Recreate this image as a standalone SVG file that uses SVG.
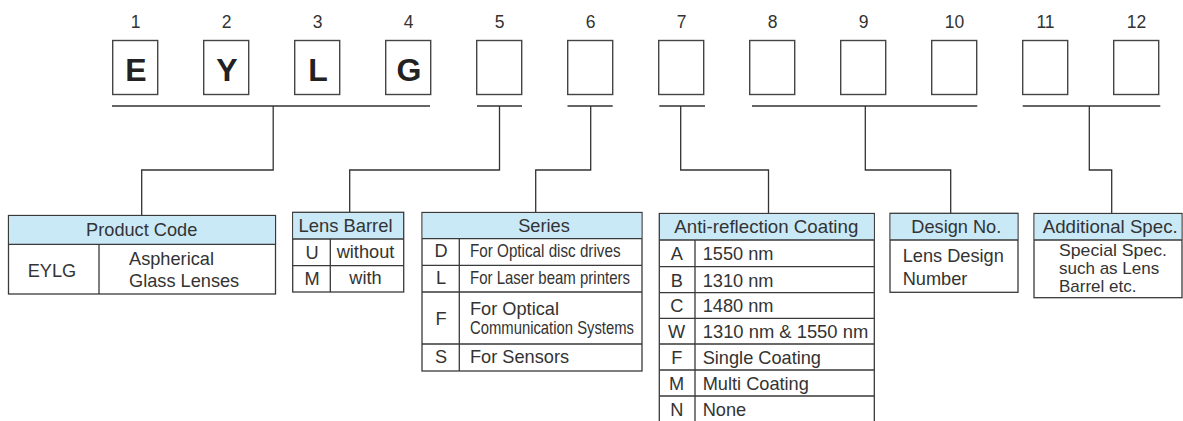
<svg xmlns="http://www.w3.org/2000/svg" width="1183" height="421" viewBox="0 0 1183 421">
<style>
.bx{fill:#fff;stroke:#444;stroke-width:1.4}
.tb{fill:#fff;stroke:#3a3a3a;stroke-width:1.3}
.hd{fill:#c9e9f7;stroke:none}
.ln{fill:none;stroke:#3a3a3a;stroke-width:1.3}
.cn{fill:none;stroke:#333;stroke-width:1.3}
text{font-family:"Liberation Sans",Arial,sans-serif;fill:#333;font-size:18.2px}
.num{font-size:17.5px;text-anchor:middle}
.big{font-size:32px;font-weight:bold;fill:#222;text-anchor:middle}
.c{text-anchor:middle}
.sm{font-size:17px}
</style>
<g id="codes">
<rect class="bx" x="112.7" y="40.5" width="45" height="54"/>
<rect class="bx" x="203.7" y="40.5" width="45" height="54"/>
<rect class="bx" x="294.7" y="40.5" width="45" height="54"/>
<rect class="bx" x="385.7" y="40.5" width="45" height="54"/>
<rect class="bx" x="476.7" y="40.5" width="45" height="54"/>
<rect class="bx" x="567.7" y="40.5" width="45" height="54"/>
<rect class="bx" x="658.7" y="40.5" width="45" height="54"/>
<rect class="bx" x="749.7" y="40.5" width="45" height="54"/>
<rect class="bx" x="840.7" y="40.5" width="45" height="54"/>
<rect class="bx" x="931.7" y="40.5" width="45" height="54"/>
<rect class="bx" x="1022.7" y="40.5" width="45" height="54"/>
<rect class="bx" x="1113.7" y="40.5" width="45" height="54"/>
<text class="num" x="135.5" y="28.3">1</text>
<text class="num" x="226.5" y="28.3">2</text>
<text class="num" x="317.5" y="28.3">3</text>
<text class="num" x="408.5" y="28.3">4</text>
<text class="num" x="499.5" y="28.3">5</text>
<text class="num" x="590.5" y="28.3">6</text>
<text class="num" x="681.5" y="28.3">7</text>
<text class="num" x="772.5" y="28.3">8</text>
<text class="num" x="863.5" y="28.3">9</text>
<text class="num" x="954.5" y="28.3">10</text>
<text class="num" x="1045.5" y="28.3">11</text>
<text class="num" x="1136.5" y="28.3">12</text>
<text class="big" x="136" y="80.7">E</text>
<text class="big" x="227" y="80.7">Y</text>
<text class="big" x="318" y="80.7">L</text>
<text class="big" x="409" y="80.7">G</text>
</g>
<g id="connectors">
<path class="cn" d="M112 106H430M273.2 106V170H141.7V215.5"/>
<path class="cn" d="M477 106H522M499.5 106V170H349.7V212.3"/>
<path class="cn" d="M567.5 106H612.7M590.7 106V170H535.7V212.5"/>
<path class="cn" d="M659.3 106H705M680.7 106V170H768.5V213.5"/>
<path class="cn" d="M752 106H977.3M865.3 106V170H950.7V213.3"/>
<path class="cn" d="M1022.7 106H1160.3M1089.3 106V170H1111.7V213.5"/>
</g>
<g id="product-code">
<rect class="tb" x="8.5" y="215.5" width="267" height="78.5"/>
<rect class="hd" x="9.2" y="216.2" width="265.6" height="28.1"/>
<path class="ln" d="M8.5 244.3H275.5M99 244.3V294"/>
<text class="c" x="141.7" y="235.7">Product Code</text>
<text class="c" x="52" y="277.3">EYLG</text>
<text x="129" y="265">Aspherical</text>
<text x="129" y="287.3">Glass Lenses</text>
</g>
<g id="lens-barrel">
<rect class="tb" x="292.7" y="212.3" width="111" height="79.7"/>
<rect class="hd" x="293.4" y="213" width="109.6" height="26"/>
<path class="ln" d="M292.7 239H403.7M292.7 265.7H403.7M330.3 239V292"/>
<text class="c" x="345.5" y="231.7" textLength="94" lengthAdjust="spacingAndGlyphs">Lens Barrel</text>
<text class="c" x="312" y="259">U</text>
<text class="c" x="365.5" y="258">without</text>
<text class="c" x="312" y="285.3">M</text>
<text class="c" x="365.5" y="284">with</text>
</g>
<g id="series">
<rect class="tb" x="422" y="212.5" width="220" height="158.5"/>
<rect class="hd" x="422.7" y="213.2" width="218.6" height="25.5"/>
<path class="ln" d="M422 238.7H642M422 265.3H642M422 292H642M422 344H642M459.3 238.7V371"/>
<text class="c" x="544" y="231.7">Series</text>
<text class="c" x="441" y="257.3">D</text>
<text x="470" y="257.3" textLength="150.5" lengthAdjust="spacingAndGlyphs">For Optical disc drives</text>
<text class="c" x="441" y="284">L</text>
<text x="470" y="284" textLength="160" lengthAdjust="spacingAndGlyphs">For Laser beam printers</text>
<text class="c" x="441" y="325">F</text>
<text x="470" y="315">For Optical</text>
<text x="470" y="334.3" font-size="16.5" textLength="164" lengthAdjust="spacingAndGlyphs">Communication Systems</text>
<text class="c" x="441" y="363.3">S</text>
<text x="470" y="363.3">For Sensors</text>
</g>
<g id="anti-reflection-coating">
<rect class="tb" x="659.3" y="213.5" width="215" height="212"/>
<rect class="hd" x="660" y="214.2" width="213.6" height="25.8"/>
<path class="ln" d="M659.3 240H874.3M659.3 266.7H874.3M659.3 292.7H874.3M659.3 318.3H874.3M659.3 344H874.3M659.3 370H874.3M659.3 396H874.3M695 240V425"/>
<text class="c" x="766.3" y="233.3" textLength="184" lengthAdjust="spacingAndGlyphs">Anti-reflection Coating</text>
<text class="c" x="676.7" y="260">A</text>
<text x="702.7" y="260">1550 nm</text>
<text class="c" x="676.7" y="286.7">B</text>
<text x="702.7" y="286.7">1310 nm</text>
<text class="c" x="676.7" y="312.3">C</text>
<text x="702.7" y="312.3">1480 nm</text>
<text class="c" x="676.7" y="338.3">W</text>
<text x="702.7" y="338.3" textLength="165.5" lengthAdjust="spacingAndGlyphs">1310 nm &amp; 1550 nm</text>
<text class="c" x="676.7" y="364">F</text>
<text x="702.7" y="364">Single Coating</text>
<text class="c" x="676.7" y="390">M</text>
<text x="702.7" y="390">Multi Coating</text>
<text class="c" x="676.7" y="416">N</text>
<text x="702.7" y="416">None</text>
</g>
<g id="design-no">
<rect class="tb" x="890" y="213.3" width="128" height="79"/>
<rect class="hd" x="890.7" y="214" width="126.6" height="26"/>
<path class="ln" d="M890 240H1018"/>
<text class="c" x="956.3" y="233.3">Design No.</text>
<text x="902.7" y="262">Lens Design</text>
<text x="902.7" y="285">Number</text>
</g>
<g id="additional-spec">
<rect class="tb" x="1034" y="213.5" width="148" height="84.2"/>
<rect class="hd" x="1034.7" y="214.2" width="146.6" height="25.8"/>
<path class="ln" d="M1034 240H1182"/>
<text x="1042.7" y="233.3" textLength="135" lengthAdjust="spacingAndGlyphs">Additional Spec.</text>
<text class="sm" x="1059" y="255.7" textLength="108" lengthAdjust="spacingAndGlyphs">Special Spec.</text>
<text class="sm" x="1059" y="273.7">such as Lens</text>
<text class="sm" x="1059" y="292">Barrel etc.</text>
</g>
</svg>
